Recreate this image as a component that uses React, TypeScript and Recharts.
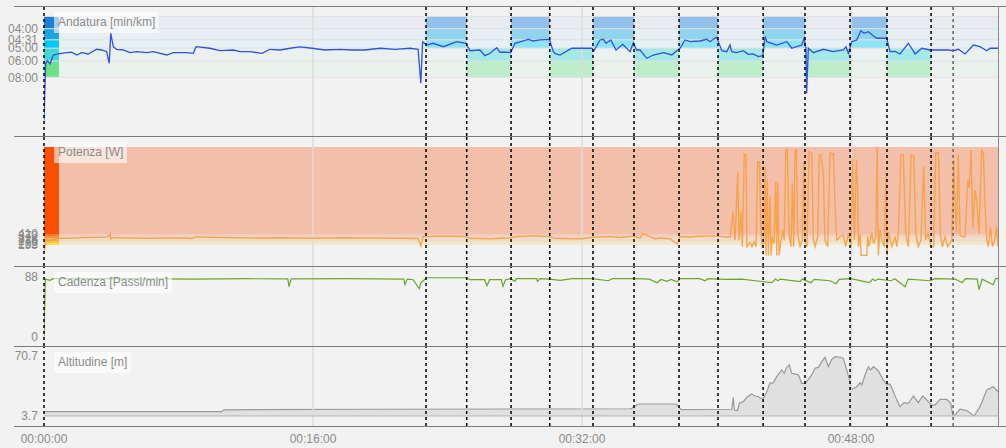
import { ComposedChart, Line, Area, XAxis, YAxis, ReferenceArea, ReferenceLine } from 'recharts'

const FONT = '"Liberation Sans", Arial, sans-serif'
const END = 56.74

// time axis (minutes)
const timeTicks = [0, 16, 32, 48]
const timeLabels = ['00:00:00', '00:16:00', '00:32:00', '00:48:00']
const lapMarks = [0, 22.72, 25.14, 27.78, 30.08, 32.65, 35.09, 37.77, 40.09, 42.77, 45.26, 47.94, 50.14, 52.76]
const autoLapMarks = [54.07]
const fastLaps = [[22.72, 25.14], [27.78, 30.08], [32.65, 35.09], [37.77, 40.09], [42.77, 45.26], [47.94, 50.14]]
const easyLaps = [[25.14, 27.78], [30.08, 32.65], [35.09, 37.77], [40.09, 42.77], [45.26, 47.94], [50.14, 52.76]]

// pace zones, stored as speed in km/h (slow -> fast)
const paceZoneBounds = [7.5, 10, 12, 13.28, 15, 16.9]
const paceBlockColors = ['#6fe08a', '#3ed9d6', '#00c8f7', '#1ca3e2', '#1b7fd8']
const paceBandColors = ['#ebf1ec', '#e9f1f1', '#e7f0f3', '#e8eff3', '#e8ecf1']
const paceHiColors = ['#bdedc9', '#a4e9e7', '#8ee3f6', '#91d4ef', '#92c0ea']
const paceTickKmh = [15, 13.28, 12, 10, 7.5]
const paceTickLabels = ['04:00', '04:31', '05:00', '06:00', '08:00']

// power zones (W)
const powerZoneBounds = [199, 232, 276, 328, 372, 410, 2080]
const powerBlockColors = ['#f6dc5a', '#f7c63a', '#f8ae3c', '#f8943e', '#f8762c', '#f85000']
const powerBandColors = ['#f1e9cd', '#f1e3c9', '#f1dcc7', '#f1d5c6', '#f2cdbf', '#f3bfa9']
const powerTicks = [199, 232, 276, 328, 372, 410]

const cadenceTicks = [0, 88]
const altitudeTicks = [3.7, 70.7]

// [minute, km/h]
const paceRaw: [number, number][] = [
  [0, 0.8], [0.1, 9.66], [0.2, 10.06], [0.36, 9.55], [0.55, 10.94], [0.85, 11.1], [1.35, 11.3], [1.65, 11.36],
  [1.95, 10.94], [2.24, 11.3], [2.63, 11.1], [3.13, 11.82], [3.43, 11.71], [3.73, 11.45], [3.88, 9.66], [3.97, 14.29],
  [4.12, 12.22], [4.32, 11.82], [4.72, 11.71], [5.12, 11.3], [5.51, 11.45], [6.11, 11.3], [6.5, 11.45], [7.3, 10.94],
  [7.69, 11.3], [8.49, 11.3], [8.88, 11.2], [9.04, 12.22], [9.87, 11.98], [10.47, 11.6], [11.26, 11.71], [11.66, 11.45],
  [12.25, 11.45], [12.97, 11.2], [13.44, 11.82], [14.04, 11.71], [14.63, 11.98], [15.23, 12.18], [15.94, 11.98],
  [16.71, 11.71], [17.61, 11.82], [18.32, 11.71], [19.09, 11.71], [19.99, 11.98], [20.88, 11.82], [21.77, 11.98],
  [22.25, 11.82], [22.41, 6.57], [22.52, 12.99], [22.76, 12.48], [23.14, 12.75], [23.75, 12.22], [24.55, 12.99],
  [25.1, 12.75], [25.34, 11.6], [25.93, 11.71], [26.23, 10.83], [26.53, 11.2], [26.93, 12.07], [27.12, 11.36],
  [27.52, 11.36], [27.76, 11.3], [28.01, 12.75], [28.51, 13.1], [28.81, 13.36], [29.09, 13.1], [29.5, 13.26],
  [30.06, 13.36], [30.29, 11.45], [30.39, 11.2], [30.69, 10.94], [31.39, 11.98], [32.58, 11.98], [32.71, 11.6],
  [33.07, 13.26], [33.27, 13.36], [33.43, 12.75], [33.71, 13.26], [34.02, 11.71], [34.42, 12.59], [34.86, 11.45],
  [35.05, 12.84], [35.25, 11.71], [35.45, 11.71], [35.85, 10.43], [36.24, 10.94], [36.84, 11.3], [37.34, 10.94],
  [37.63, 11.6], [37.83, 11.98], [38.13, 13.26], [38.42, 12.99], [39.02, 13.1], [39.42, 13.36], [39.61, 12.99],
  [39.81, 13.36], [40.01, 13.67], [40.11, 12.99], [40.31, 11.6], [40.61, 11.45], [40.8, 12.48], [40.9, 11.45],
  [41.2, 11.3], [41.59, 11.6], [41.89, 11.05], [42.17, 11.1], [42.49, 10.68], [42.75, 10.83], [42.89, 13.77],
  [42.99, 12.99], [43.58, 12.48], [44.18, 12.99], [44.47, 11.98], [44.77, 12.22], [45.07, 12.48], [45.21, 13.52],
  [45.32, 11.98], [45.36, 5.03], [45.46, 11.98], [45.76, 11.3], [46.35, 11.82], [46.95, 11.45], [47.54, 11.71],
  [47.7, 12.22], [47.84, 11.2], [48.04, 12.99], [48.34, 13.26], [48.58, 14.69], [48.77, 14.29], [49.03, 14.54],
  [49.33, 13.87], [49.53, 13.52], [50.12, 13.52], [50.32, 11.45], [50.62, 11.5], [50.91, 11.1], [51.41, 12.75],
  [51.81, 11.1], [52.21, 11.98], [52.7, 11.71], [53.29, 11.71], [53.79, 11.71], [54.09, 11.6], [54.39, 11.82],
  [54.78, 11.1], [55.28, 12.48], [55.67, 12.22], [56.07, 11.6], [56.27, 11.98], [56.74, 11.98],
]

// [minute, W]
const powerRaw: [number, number][] = [
  [0, 40], [0.12, 300], [0.36, 280], [0.65, 320], [0.95, 330], [1.55, 330], [2.14, 340], [2.74, 345], [3.33, 350],
  [3.81, 355], [3.93, 410], [3.98, 320], [4.16, 340], [5.11, 335], [6.3, 330], [7.49, 335], [8.09, 340], [8.8, 325],
  [9.04, 355], [10.47, 345], [12.25, 335], [14.04, 340], [15.82, 330], [17.61, 340], [19.39, 335], [21.17, 330],
  [22.25, 325], [22.42, 180], [22.54, 360], [22.96, 365], [24.15, 370], [25.1, 360], [25.34, 330], [26.53, 320],
  [27.72, 335], [28.01, 355], [29.2, 380], [30.04, 360], [30.39, 330], [31.58, 320], [32, 320], [32.65, 350],
  [33.67, 360], [34.26, 345], [35.03, 370], [35.45, 330], [35.63, 420], [36.34, 320], [36.64, 335], [37.23, 320],
  [37.65, 220], [37.83, 360], [38.42, 355], [39.02, 370], [39.91, 370], [40.21, 365], [40.51, 355], [40.81, 355],
  [40.98, 840], [41.1, 296], [41.26, 1600], [41.34, 296], [41.46, 840], [41.53, 167], [41.65, 1946], [41.75, 1930],
  [41.81, 167], [41.99, 250], [42.11, 167], [42.23, 260], [42.35, 167], [42.45, 1800], [42.55, 1800], [42.63, 650],
  [42.71, 167], [42.81, 230], [42.89, 1700], [42.94, 0], [43.02, 1450], [43.08, 0], [43.18, 1125], [43.24, 0],
  [43.32, 360], [43.42, 230], [43.52, 1415], [43.58, 0], [43.64, 1400], [43.72, 0], [43.81, 230], [43.94, 490],
  [44.02, 296], [44.12, 2020], [44.21, 2040], [44.31, 424], [44.43, 167], [44.51, 1385], [44.59, 167], [44.67, 2020],
  [44.75, 2030], [44.83, 400], [44.97, 167], [45.1, 296], [45.19, 1800], [45.26, 296], [45.38, 167], [45.5, 1990],
  [45.66, 1960], [45.76, 296], [45.86, 167], [46.02, 360], [46.11, 1930], [46.21, 1930], [46.35, 1570], [46.45, 296],
  [46.61, 167], [46.75, 1960], [46.95, 1950], [47.05, 935], [47.15, 296], [47.35, 360], [47.54, 390], [47.68, 167],
  [47.84, 424], [48, 167], [48.08, 1860], [48.2, 296], [48.32, 1830], [48.39, 1250], [48.44, 167], [48.54, 400],
  [48.6, 0], [48.93, 0], [48.99, 360], [49.07, 167], [49.23, 424], [49.34, 230], [49.47, 360], [49.56, 2085],
  [49.62, 0], [49.72, 490], [49.84, 296], [49.98, 167], [50.08, 1580], [50.14, 0], [50.22, 450], [50.42, 167],
  [50.62, 360], [50.72, 167], [50.81, 424], [50.97, 1930], [51.11, 1930], [51.25, 424], [51.41, 167], [51.57, 1930],
  [51.73, 1900], [51.85, 424], [52, 167], [52.16, 296], [52.32, 1700], [52.44, 296], [52.58, 424], [52.76, 167],
  [52.91, 167], [53.04, 1970], [53.2, 1970], [53.31, 424], [53.43, 167], [53.59, 360], [53.75, 167], [53.99, 296],
  [54.11, 1830], [54.18, 1040], [54.27, 424], [54.38, 1930], [54.48, 400], [54.62, 360], [54.78, 360], [54.94, 1450],
  [55.02, 1290], [55.14, 2020], [55.24, 530], [55.38, 1255], [55.48, 1040], [55.61, 424], [55.77, 2020], [55.87, 1960],
  [55.97, 935], [56.07, 296], [56.17, 167], [56.29, 550], [56.41, 167], [56.54, 296], [56.66, 550], [56.74, 167],
]

// [minute, passi/min]
const cadenceRaw: [number, number][] = [
  [0, 0], [0.08, 85.1], [0.18, 83.6], [0.36, 82.6], [0.55, 85.1], [2, 85.1], [5, 85.1], [9, 84.5], [12, 85.1],
  [14.5, 84.8], [14.57, 73.3], [14.7, 84.8], [18, 85.1], [21.4, 84.5], [21.47, 76.3], [21.6, 84.5], [21.95, 83.6],
  [22.32, 70.4], [22.42, 79.2], [22.76, 86.5], [25.1, 86.5], [25.34, 83.6], [26.2, 83.6], [26.35, 74.8], [26.5, 83.6],
  [27.2, 83.6], [27.3, 73.9], [27.45, 83.6], [27.76, 85.1], [28.01, 81.1], [28.1, 85.1], [29.3, 85.1], [29.35, 81.1],
  [29.5, 85.1], [30.06, 84.5], [30.7, 82.6], [31.4, 85.1], [32.6, 85.1], [33.55, 82.1], [33.8, 85.1], [35.05, 85.1],
  [36, 84.5], [36.46, 79.2], [36.7, 84], [37.05, 81.1], [37.3, 84], [37.65, 80.4], [37.83, 85.1], [39, 85.1],
  [39.31, 82.1], [39.5, 85.1], [40.5, 84], [41.5, 84.5], [43.3, 79.2], [43.5, 84.5], [43.65, 82.1], [43.8, 84.5],
  [44.97, 80.7], [45.1, 84.5], [45.62, 79.2], [45.8, 84], [46.75, 82.1], [47.11, 77.7], [47.3, 84], [48, 85.1],
  [49.07, 79.2], [49.3, 84.5], [49.43, 82.1], [49.6, 84.5], [50.38, 82.1], [50.6, 85.1], [51.21, 73.3], [51.4, 84.5],
  [52.7, 82.1], [53, 85.1], [54.2, 84.5], [54.6, 79.2], [54.8, 85.1], [55.5, 84.5], [55.61, 68.9], [55.8, 84.5],
  [56.45, 76.3], [56.6, 85.1], [56.74, 85.1],
]

// [minute, m]
const altitudeRaw: [number, number][] = [
  [0, 8.5], [10.56, 8.5], [10.7, 10.6], [20, 11.2], [34.92, 11.8], [35.33, 17.1], [37.59, 17.1], [37.9, 10.8],
  [40.9, 11.2], [41, 24.6], [41.06, 10.4], [41.24, 9.6], [41.36, 17.9], [41.59, 19.7], [41.8, 24.6], [42.09, 28.3],
  [42.29, 26], [42.49, 25.3], [42.59, 23.5], [42.78, 23.5], [42.99, 30.8], [43.18, 40.9], [43.34, 40.2], [43.58, 47.6],
  [43.88, 55.1], [44.02, 51.4], [44.18, 58.1], [44.33, 60.7], [44.47, 51.4], [44.67, 50.7], [44.87, 49.5], [45.07, 40.2],
  [45.26, 40.2], [45.46, 44.7], [45.66, 49.5], [45.86, 57], [46.06, 58.1], [46.26, 64.4], [46.45, 69.3], [46.65, 58.8],
  [46.85, 67], [47.05, 69.9], [47.35, 69.3], [47.54, 68.1], [47.74, 55.1], [47.94, 42], [48.04, 33.5], [48.34, 36.4],
  [48.54, 40.9], [48.64, 38.3], [48.83, 49.5], [49.03, 58.8], [49.17, 55.1], [49.33, 58.8], [49.62, 54.4], [49.92, 44],
  [50.12, 39.4], [50.32, 39.4], [50.62, 26], [50.91, 14.1], [51.15, 18.6], [51.41, 17.9], [51.71, 26], [52, 18.6],
  [52.26, 26], [52.5, 21.5], [52.8, 15.9], [52.99, 15.9], [53.29, 22.3], [53.69, 22.3], [53.93, 17.9], [54.05, 4.8],
  [54.19, 4.8], [54.48, 11.2], [54.88, 9.7], [55.32, 3.7], [55.67, 14.1], [56.07, 32.7], [56.46, 36.4], [56.74, 30.8],
]

const toPts = (raw: [number, number][]) => raw.map(([t, v]) => ({ t, v }))
const paceData = toPts(paceRaw)
const powerData = toPts(powerRaw)
const cadenceData = toPts(cadenceRaw)
const altitudeData = toPts(altitudeRaw)

const tickStyle = { fontSize: 12, fill: '#8a8a8a', fontFamily: FONT }
const MARGIN = { top: 0, right: 8, bottom: 0, left: 0 }

function timeGrid() {
  return [16, 32, 48].map((t) => (
    <ReferenceLine key={'g' + t} x={t} stroke="#dcdcdc" strokeWidth={1.5} />
  ))
}

function lapLines() {
  return [
    ...lapMarks.map((t) => (
      <ReferenceLine key={'l' + t} x={t} stroke="#000" strokeWidth={1.5} strokeDasharray="3 3" />
    )),
    ...autoLapMarks.map((t) => (
      <ReferenceLine key={'a' + t} x={t} stroke="#6a6a6a" strokeWidth={1.6} strokeDasharray="3 3" />
    )),
  ]
}

function zoneBands(bounds: number[], band: string[], block: string[]) {
  const out = []
  for (let i = 0; i < band.length; i++) {
    out.push(<ReferenceArea key={'b' + i} x1={0} x2={END} y1={bounds[i]} y2={bounds[i + 1]} fill={band[i]} fillOpacity={1} />)
    out.push(<ReferenceArea key={'k' + i} x1={0} x2={0.89} y1={bounds[i]} y2={bounds[i + 1]} fill={block[i]} fillOpacity={1} />)
  }
  return out
}

function PaceChart() {
  const hi = []
  for (const [a, b] of fastLaps) {
    for (const z of [2, 3, 4]) {
      hi.push(<ReferenceArea key={`f${a}-${z}`} x1={a} x2={b} y1={paceZoneBounds[z]} y2={paceZoneBounds[z + 1]} fill={paceHiColors[z]} fillOpacity={1} />)
    }
  }
  for (const [a, b] of easyLaps) {
    for (const z of [0, 1]) {
      hi.push(<ReferenceArea key={`e${a}-${z}`} x1={a} x2={b} y1={paceZoneBounds[z]} y2={paceZoneBounds[z + 1]} fill={paceHiColors[z]} fillOpacity={1} />)
    }
  }
  return (
    <ComposedChart width={1006} height={130} margin={MARGIN}>
      <XAxis type="number" dataKey="t" domain={[0, END]} hide allowDataOverflow />
      <YAxis type="number" domain={[-1.56, 18.5]} ticks={paceTickKmh} interval={0} width={44}
        axisLine={false} tickLine={false} tickSize={4} tickMargin={2} tick={tickStyle}
        tickFormatter={(v: number) => paceTickLabels[paceTickKmh.indexOf(v)]} allowDataOverflow />
      {zoneBands(paceZoneBounds, paceBandColors, paceBlockColors)}
      {hi}
      {paceZoneBounds.map((y) => <ReferenceLine key={'z' + y} y={y} stroke="#dfe1e3" />)}
      {timeGrid()}
      <Line data={paceData} dataKey="v" type="linear" stroke="#3152df" strokeWidth={1.3} dot={false} isAnimationActive={false} />
      {lapLines()}
    </ComposedChart>
  )
}

function PowerChart() {
  return (
    <ComposedChart width={1006} height={130} margin={MARGIN}>
      <XAxis type="number" dataKey="t" domain={[0, END]} hide allowDataOverflow />
      <YAxis type="number" domain={[-203, 2292]} ticks={powerTicks} interval={0} width={44}
        axisLine={false} tickLine={false} tickSize={4} tickMargin={2} tick={tickStyle} allowDataOverflow />
      {zoneBands(powerZoneBounds, powerBandColors, powerBlockColors)}
      {timeGrid()}
      <Line data={powerData} dataKey="v" type="linear" stroke="#f7a040" strokeOpacity={0.9} strokeWidth={1.4} dot={false} isAnimationActive={false} />
      {lapLines()}
    </ComposedChart>
  )
}

function CadenceChart() {
  return (
    <ComposedChart width={1006} height={80} margin={MARGIN}>
      <XAxis type="number" dataKey="t" domain={[0, END]} hide allowDataOverflow />
      <YAxis type="number" domain={[-13.6, 103.7]} ticks={cadenceTicks} interval={0} width={44}
        axisLine={false} tickLine={false} tickSize={4} tickMargin={2} tick={tickStyle} allowDataOverflow />
      {timeGrid()}
      <Line data={cadenceData} dataKey="v" type="linear" stroke="#6aa62c" strokeWidth={1.2} dot={false} isAnimationActive={false} />
      {lapLines()}
    </ComposedChart>
  )
}

function AltitudeChart() {
  return (
    <ComposedChart width={1006} height={102} margin={MARGIN}>
      <XAxis type="number" dataKey="t" domain={[0, END]} ticks={timeTicks} interval={0} height={22}
        axisLine={false} tickLine={false} tick={tickStyle} allowDataOverflow
        tickFormatter={(v: number) => timeLabels[timeTicks.indexOf(v)]} />
      <YAxis type="number" domain={[-7.5, 81.9]} ticks={altitudeTicks} interval={0} width={44}
        axisLine={false} tickLine={false} tickSize={4} tickMargin={2} tick={tickStyle} allowDataOverflow />
      {timeGrid()}
      <Area data={altitudeData} dataKey="v" type="linear" baseValue={3.7} stroke="#9a9a9a" strokeWidth={1.2}
        fill="#e0e0e0" fillOpacity={1} dot={false} isAnimationActive={false} />
      <ReferenceLine y={3.7} stroke="#b5b5b5" />
      {lapLines()}
    </ComposedChart>
  )
}

const panels = [
  { top: 6, label: 'Andatura [min/km]' },
  { top: 136, label: 'Potenza [W]' },
  { top: 266, label: 'Cadenza [Passi/min]' },
  { top: 346, label: 'Altitudine [m]' },
]
const separators = [6, 136, 266, 346, 426]

export default function App() {
  return (
    <div style={{ position: 'absolute', left: 0, top: 0, width: 1006, height: 448, background: '#f2f2f2', overflow: 'hidden', fontFamily: FONT }}>
      <div style={{ position: 'absolute', left: 0, top: 6 }}><PaceChart /></div>
      <div style={{ position: 'absolute', left: 0, top: 136 }}><PowerChart /></div>
      <div style={{ position: 'absolute', left: 0, top: 266 }}><CadenceChart /></div>
      <div style={{ position: 'absolute', left: 0, top: 346 }}><AltitudeChart /></div>
      {separators.map((y) => (
        <div key={y} style={{ position: 'absolute', left: 14, right: 0, top: y, height: 1, background: '#7c7c7c' }} />
      ))}
      <div style={{ position: 'absolute', left: 998, top: 6, width: 1, height: 420, background: '#8a8a8a' }} />
      {panels.map((p) => (
        <div key={p.label} style={{
          position: 'absolute', left: 54, top: p.top + 6, height: 21, lineHeight: '21px', padding: '0 4px',
          background: 'rgba(255,255,255,0.6)', color: '#8a8a8a', fontSize: 12, whiteSpace: 'nowrap',
        }}>{p.label}</div>
      ))}
    </div>
  )
}
